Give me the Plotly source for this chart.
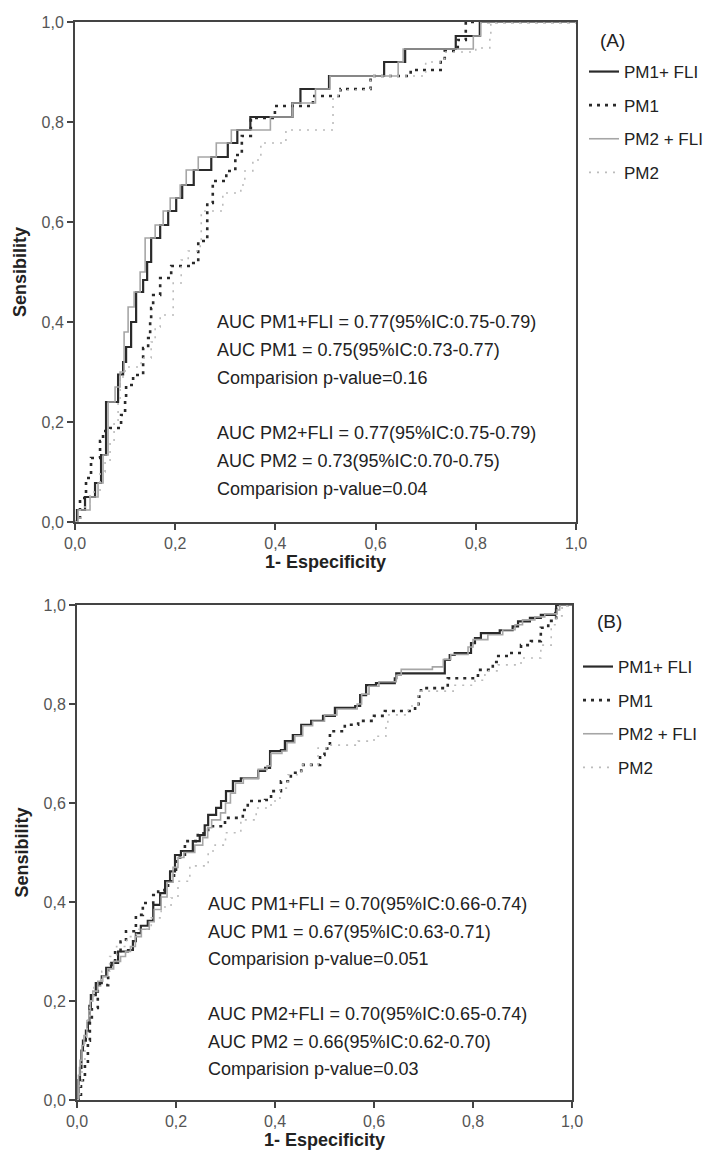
import plotly.graph_objects as go

# ---------------- data ----------------
tick_vals = [0, 0.2, 0.4, 0.6, 0.8, 1.0]
tick_text = ["0,0", "0,2", "0,4", "0,6", "0,8", "1,0"]
series_names = ["PM1+ FLI", "PM1", "PM2 + FLI", "PM2"]

# Panel A  (points = x where the curve rises, level after the rise)
a_pm1fli_x = [0, 0.004, 0.02, 0.04, 0.052, 0.062, 0.086, 0.096, 0.102, 0.112, 0.122, 0.136, 0.144, 0.152,
              0.17, 0.186, 0.202, 0.214, 0.237, 0.272, 0.305, 0.324, 0.35, 0.434, 0.45, 0.507, 0.617, 0.659,
              0.76, 0.808, 1.0]
a_pm1fli_y = [0, 0.024, 0.05, 0.078, 0.134, 0.24, 0.295, 0.32, 0.35, 0.40, 0.46, 0.484, 0.52, 0.568,
              0.594, 0.622, 0.648, 0.674, 0.704, 0.73, 0.758, 0.784, 0.81, 0.838, 0.866, 0.892, 0.92, 0.946,
              0.972, 1.0, 1.0]

a_pm1_x = [0, 0.01, 0.022, 0.032, 0.05, 0.056, 0.07, 0.092, 0.1, 0.102, 0.116, 0.136, 0.146, 0.15, 0.152,
           0.156, 0.17, 0.192, 0.236, 0.246, 0.264, 0.275, 0.302, 0.32, 0.333, 0.351, 0.399, 0.475, 0.53,
           0.59, 0.67, 0.73, 0.738, 0.764, 0.78, 1.0]
a_pm1_y = [0, 0.048, 0.088, 0.128, 0.162, 0.182, 0.188, 0.214, 0.248, 0.274, 0.294, 0.348, 0.368, 0.402,
           0.428, 0.454, 0.488, 0.512, 0.518, 0.562, 0.638, 0.682, 0.702, 0.734, 0.772, 0.808, 0.832, 0.852,
           0.866, 0.892, 0.904, 0.92, 0.942, 0.964, 1.0, 1.0]

a_pm2fli_x = [0, 0.006, 0.03, 0.046, 0.056, 0.066, 0.08, 0.09, 0.098, 0.106, 0.118, 0.13, 0.14, 0.16,
              0.176, 0.19, 0.21, 0.222, 0.246, 0.282, 0.312, 0.39, 0.434, 0.48, 0.509, 0.645, 0.655,
              0.795, 0.81, 1.0]
a_pm2fli_y = [0, 0.024, 0.05, 0.078, 0.134, 0.24, 0.27, 0.30, 0.38, 0.43, 0.46, 0.50, 0.568, 0.594,
              0.622, 0.648, 0.674, 0.704, 0.73, 0.758, 0.784, 0.81, 0.838, 0.866, 0.892, 0.92, 0.946,
              0.972, 1.0, 1.0]

a_pm2_x = [0, 0.01, 0.03, 0.05, 0.06, 0.07, 0.078, 0.086, 0.09, 0.1, 0.132, 0.152, 0.16, 0.17, 0.196,
           0.212, 0.226, 0.25, 0.252, 0.295, 0.331, 0.339, 0.355, 0.371, 0.421, 0.515, 0.525, 0.59, 0.70,
           0.738, 0.80, 0.828, 0.83, 1.0]
a_pm2_y = [0, 0.03, 0.06, 0.1, 0.12, 0.16, 0.2, 0.24, 0.29, 0.31, 0.328, 0.36, 0.39, 0.414, 0.478,
           0.524, 0.542, 0.562, 0.622, 0.658, 0.674, 0.702, 0.724, 0.758, 0.784, 0.852, 0.864, 0.892, 0.92,
           0.94, 0.948, 0.974, 1.0, 1.0]

# Panel B
b_pm1fli_x = [0, 0.003, 0.006, 0.009, 0.012, 0.018, 0.022, 0.025, 0.028, 0.038, 0.05, 0.059, 0.069, 0.083,
              0.103, 0.113, 0.119, 0.129, 0.143, 0.154, 0.168, 0.178, 0.188, 0.198, 0.21, 0.234, 0.248,
              0.258, 0.265, 0.281, 0.291, 0.301, 0.315, 0.331, 0.366, 0.38, 0.39, 0.412, 0.42, 0.436,
              0.453, 0.473, 0.497, 0.521, 0.562, 0.572, 0.584, 0.604, 0.642, 0.645, 0.743, 0.753, 0.763,
              0.796, 0.804, 0.816, 0.854, 0.88, 0.891, 0.915, 0.937, 0.966, 0.968, 1.0]
b_pm1fli_y = [0, 0.04, 0.065, 0.1, 0.12, 0.14, 0.16, 0.19, 0.212, 0.236, 0.25, 0.267, 0.277, 0.30,
              0.303, 0.321, 0.337, 0.352, 0.362, 0.394, 0.418, 0.442, 0.462, 0.495, 0.503, 0.523, 0.535,
              0.555, 0.576, 0.59, 0.604, 0.624, 0.644, 0.65, 0.665, 0.671, 0.705, 0.707, 0.725, 0.737,
              0.758, 0.766, 0.776, 0.792, 0.796, 0.818, 0.838, 0.842, 0.852, 0.862, 0.889, 0.899, 0.903,
              0.923, 0.933, 0.943, 0.949, 0.957, 0.967, 0.974, 0.98, 0.984, 1.0, 1.0]

b_pm1_x = [0, 0.008, 0.016, 0.022, 0.026, 0.03, 0.042, 0.063, 0.077, 0.088, 0.099, 0.119, 0.133, 0.154,
           0.164, 0.184, 0.196, 0.2, 0.218, 0.244, 0.265, 0.299, 0.335, 0.345, 0.38, 0.392, 0.412, 0.432,
           0.453, 0.491, 0.5, 0.511, 0.541, 0.568, 0.6, 0.622, 0.683, 0.69, 0.695, 0.749, 0.81, 0.84,
           0.851, 0.871, 0.897, 0.917, 0.937, 0.952, 0.968, 0.972, 1.0]
b_pm1_y = [0, 0.04, 0.071, 0.12, 0.16, 0.186, 0.232, 0.273, 0.301, 0.32, 0.341, 0.374, 0.398, 0.414,
           0.424, 0.442, 0.46, 0.49, 0.523, 0.539, 0.553, 0.57, 0.586, 0.604, 0.606, 0.624, 0.644, 0.661,
           0.677, 0.697, 0.71, 0.745, 0.758, 0.766, 0.776, 0.786, 0.796, 0.815, 0.832, 0.852, 0.869, 0.885,
           0.897, 0.903, 0.919, 0.927, 0.954, 0.968, 0.994, 1.0, 1.0]

b_pm2fli_x = [0, 0.003, 0.006, 0.01, 0.014, 0.02, 0.024, 0.027, 0.032, 0.042, 0.052, 0.062, 0.074, 0.088,
              0.098, 0.108, 0.118, 0.13, 0.146, 0.156, 0.17, 0.182, 0.194, 0.204, 0.216, 0.238, 0.254,
              0.264, 0.272, 0.29, 0.3, 0.31, 0.32, 0.336, 0.366, 0.384, 0.392, 0.414, 0.424, 0.44, 0.456,
              0.476, 0.5, 0.525, 0.566, 0.575, 0.59, 0.61, 0.645, 0.655, 0.718, 0.74, 0.755, 0.79, 0.8,
              0.83, 0.86, 0.885, 0.9, 0.925, 0.945, 0.97, 0.975, 1.0]
b_pm2fli_y = [0, 0.05, 0.08, 0.11, 0.13, 0.16, 0.18, 0.2, 0.22, 0.24, 0.25, 0.265, 0.28, 0.29,
              0.3, 0.31, 0.33, 0.345, 0.36, 0.385, 0.41, 0.44, 0.47, 0.49, 0.5, 0.515, 0.53,
              0.55, 0.566, 0.58, 0.6, 0.62, 0.64, 0.65, 0.668, 0.675, 0.7, 0.705, 0.722, 0.736, 0.756,
              0.765, 0.778, 0.79, 0.8, 0.82, 0.836, 0.845, 0.858, 0.87, 0.875, 0.89, 0.9, 0.915, 0.93,
              0.94, 0.95, 0.96, 0.97, 0.976, 0.982, 0.99, 1.0, 1.0]

b_pm2_x = [0, 0.006, 0.01, 0.016, 0.02, 0.026, 0.034, 0.05, 0.066, 0.08, 0.1, 0.12, 0.15, 0.17, 0.19,
           0.204, 0.228, 0.265, 0.279, 0.3, 0.331, 0.362, 0.392, 0.41, 0.426, 0.453, 0.487, 0.507, 0.568,
           0.6, 0.624, 0.628, 0.669, 0.689, 0.76, 0.804, 0.824, 0.851, 0.897, 0.937, 0.958, 0.968, 0.98, 1.0]
b_pm2_y = [0, 0.04, 0.08, 0.12, 0.16, 0.2, 0.23, 0.26, 0.29, 0.31, 0.33, 0.345, 0.368, 0.39, 0.408,
           0.442, 0.473, 0.503, 0.515, 0.54, 0.566, 0.59, 0.604, 0.63, 0.657, 0.677, 0.711, 0.717, 0.725,
           0.735, 0.752, 0.778, 0.796, 0.826, 0.838, 0.848, 0.867, 0.879, 0.893, 0.919, 0.96, 0.978, 1.0, 1.0]

text_a = ["AUC PM1+FLI = 0.77(95%IC:0.75-0.79)", "AUC PM1 = 0.75(95%IC:0.73-0.77)",
          "Comparision p-value=0.16", "AUC PM2+FLI = 0.77(95%IC:0.75-0.79)",
          "AUC PM2 = 0.73(95%IC:0.70-0.75)", "Comparision p-value=0.04"]
text_b = ["AUC PM1+FLI = 0.70(95%IC:0.66-0.74)", "AUC PM1 = 0.67(95%IC:0.63-0.71)",
          "Comparision p-value=0.051", "AUC PM2+FLI = 0.70(95%IC:0.65-0.74)",
          "AUC PM2 = 0.66(95%IC:0.62-0.70)", "Comparision p-value=0.03"]

# ---------------- styling ----------------
W, H = 711, 1150
FONT = "Arial, Liberation Sans, sans-serif"
styles = [
    dict(color="#2a2a2a", width=2.2, dash="solid"),
    dict(color="#2a2a2a", width=2.6, dash="3px,5px"),
    dict(color="#a6a6a6", width=1.6, dash="solid"),
    dict(color="#bcbcbc", width=1.6, dash="2px,6px"),
]

fig = go.Figure()
panels = [
    ("x", "y", "legend", [(a_pm1fli_x, a_pm1fli_y), (a_pm1_x, a_pm1_y), (a_pm2fli_x, a_pm2fli_y), (a_pm2_x, a_pm2_y)]),
    ("x2", "y2", "legend2", [(b_pm1fli_x, b_pm1fli_y), (b_pm1_x, b_pm1_y), (b_pm2fli_x, b_pm2fli_y), (b_pm2_x, b_pm2_y)]),
]
for xa, ya, lg, data in panels:
    for i, (xs, ys) in enumerate(data):
        fig.add_trace(go.Scatter(
            x=xs, y=ys, mode="lines", line=dict(shape="hv", **styles[i]),
            name=series_names[i], xaxis=xa, yaxis=ya, legend=lg,
            legendgroup=lg + str(i),
        ))

axis_common = dict(
    range=[0, 1], showgrid=False, zeroline=False, showline=True, linecolor="#444", linewidth=2,
    mirror=True, ticks="outside", ticklen=6, tickwidth=1.5, tickcolor="#444", automargin=False,
    tickvals=tick_vals, ticktext=tick_text, tickfont=dict(family=FONT, size=16, color="#555"),
)
title_font = dict(family=FONT, size=18, color="#222", weight="bold")

fig.update_layout(
    width=W, height=H, autosize=False, margin=dict(l=0, r=0, t=0, b=0, pad=0, autoexpand=False),
    paper_bgcolor="white", plot_bgcolor="white",
    xaxis=dict(domain=[67 / W, 568 / W], anchor="y",
               title=dict(text="1- Especificity", font=title_font, standoff=2), **axis_common),
    yaxis=dict(domain=[1 - 514 / H, 1 - 14 / H], anchor="x",
               title=dict(text="Sensibility", font=title_font, standoff=10), **axis_common),
    xaxis2=dict(domain=[69 / W, 564 / W], anchor="y2",
                title=dict(text="1- Especificity", font=title_font, standoff=2), **axis_common),
    yaxis2=dict(domain=[1 - 1092 / H, 1 - 597 / H], anchor="x2",
                title=dict(text="Sensibility", font=title_font, standoff=10), **axis_common),
    legend=dict(x=576 / W, xanchor="left", y=1 - 46 / H, yanchor="top",
                font=dict(family=FONT, size=17, color="#222"), bgcolor="rgba(0,0,0,0)",
                tracegroupgap=8.5, itemwidth=30),
    legend2=dict(x=570 / W, xanchor="left", y=1 - 641 / H, yanchor="top",
                 font=dict(family=FONT, size=17, color="#222"), bgcolor="rgba(0,0,0,0)",
                 tracegroupgap=8.5, itemwidth=30),
    showlegend=True,
)

ann_font = dict(family=FONT, size=18, color="#222")
ya_a = [0.40, 0.344, 0.288, 0.178, 0.122, 0.066]
ya_b = [0.396, 0.34, 0.285, 0.174, 0.117, 0.063]
for t, yv in zip(text_a, ya_a):
    fig.add_annotation(text=t, x=0.28, y=yv, xref="x", yref="y", xanchor="left", yanchor="middle",
                       showarrow=False, font=ann_font)
for t, yv in zip(text_b, ya_b):
    fig.add_annotation(text=t, x=0.26, y=yv, xref="x2", yref="y2", xanchor="left", yanchor="middle",
                       showarrow=False, font=ann_font)

fig.add_annotation(text="(A)", x=590 / W, y=1 - 33 / H, xref="paper", yref="paper", xanchor="left",
                   yanchor="middle", showarrow=False, font=dict(family=FONT, size=19, color="#222"))
fig.add_annotation(text="(B)", x=587 / W, y=1 - 613 / H, xref="paper", yref="paper", xanchor="left",
                   yanchor="middle", showarrow=False, font=dict(family=FONT, size=19, color="#222"))

fig.write_html("out.html")
